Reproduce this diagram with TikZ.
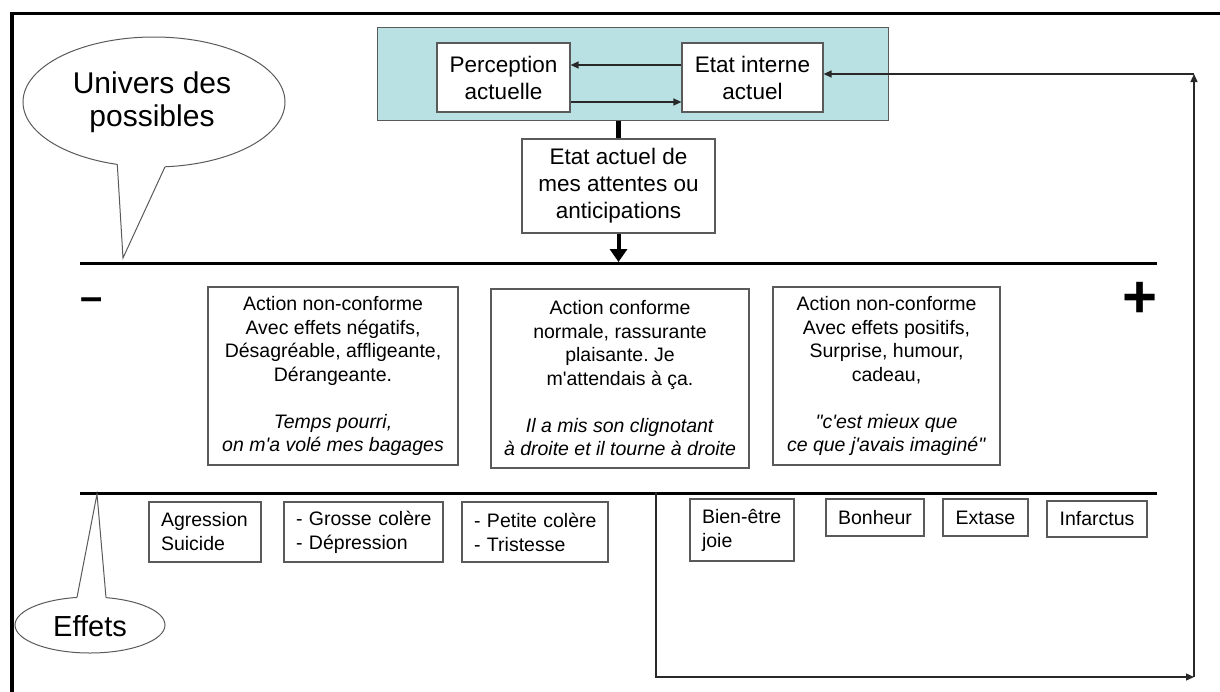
\documentclass[tikz,border=0pt]{standalone}
\usepackage{fontspec}
\newfontfamily\arial{Liberation Sans}
\usetikzlibrary{arrows.meta,shapes.geometric}
\definecolor{tealfill}{RGB}{185,224,226}
\definecolor{bord}{RGB}{90,90,90}
\definecolor{connc}{RGB}{40,40,40}
\frenchspacing
\begin{document}
\begin{tikzpicture}[x=1pt,y=-1pt,
  box/.style={draw=bord,line width=1.2pt,fill=white,inner sep=0pt,align=center},
  midtxt/.style={font=\arial\fontsize{19.5}{23.5}\selectfont},
  toptxt/.style={font=\arial\fontsize{22.5}{27}\selectfont},
  effbox/.style={box,align=left,inner xsep=12pt,font=\arial\fontsize{19.5}{24}\selectfont},
  smallbox/.style={box,font=\arial\fontsize{19.5}{24}\selectfont},
  conn/.style={draw=connc,line width=1.3pt},
  arr/.style={-{Triangle[width=7pt,length=8pt]}},
  bigline/.style={line width=3pt,black},
  bubble/.style={ellipse,draw=bord,line width=1pt,fill=white,inner sep=0pt},
  bubtxt/.style={font=\arial\fontsize{30}{33}\selectfont,align=center}
]
\useasboundingbox (0,0) rectangle (1220,691);
\fill[white] (0,0) rectangle (1220,691);

% frame
\draw[line width=3.5pt] (12,700) -- (12,13.5) -- (1230,13.5);

% top region
\node[box,fill=tealfill,draw=bord,line width=1pt,minimum width=511pt,minimum height=93pt] (teal) at (632.5,73.5) {};
\node[box,toptxt,minimum width=133pt,minimum height=69pt] (perc) at (503.5,77.5) {Perception\\actuelle};
\node[box,toptxt,minimum width=141pt,minimum height=69pt] (etat) at (752.5,77.5) {Etat interne\\actuel};
\node[box,toptxt,minimum width=193pt,minimum height=94pt] (att) at (618.5,186) {Etat actuel de\\mes attentes ou\\anticipations};

\draw[conn,arr] ([yshift=12.5pt]etat.west) -- ([yshift=12.5pt]perc.east);
\draw[conn,arr] ([yshift=-24.5pt]perc.east) -- ([yshift=-24.5pt]etat.west);

% horizontal axes
\coordinate (L1a) at (80,263);
\coordinate (L1b) at (1157,263);
\coordinate (L2a) at (80,493);
\coordinate (L2b) at (1157,493);
\draw[bigline] (L1a) -- (L1b);
\draw[bigline] (L2a) -- (L2b);

\coordinate (attEnd) at (618.5,262);
\draw[line width=5pt] (teal.south -| att.north) -- (att.north);
\draw[line width=4pt,-{Triangle[width=17pt,length=13pt]}] (att.south) -- (attEnd);

% signs
\node[font=\arial\bfseries\fontsize{40}{40}\selectfont,inner sep=0pt] (minus) at (92,304) {–};
\node[font=\arial\bfseries\fontsize{60}{60}\selectfont,inner sep=0pt] (plus) at (1140,300) {+};

% middle boxes
\node[box,midtxt,minimum width=250pt,minimum height=178pt] (neg) at (333,376)
  {Action non-conforme\\Avec effets négatifs,\\Désagréable, affligeante,\\Dérangeante.\\[23.5pt]\textit{Temps pourri,}\\\textit{on m'a volé mes bagages}};
\node[box,midtxt,minimum width=258pt,minimum height=179pt] (conf) at (620,378.5)
  {Action conforme\\normale, rassurante\\plaisante. Je\\m'attendais à ça.\\[23.5pt]\textit{Il a mis son clignotant}\\\textit{à droite et il tourne à droite}};
\node[box,midtxt,minimum width=227pt,minimum height=178pt] (pos) at (886.5,376)
  {Action non-conforme\\Avec effets positifs,\\Surprise, humour,\\cadeau,\\[23.5pt]\textit{"c'est mieux que}\\\textit{ce que j'avais imaginé"}};

% effect boxes
\node[effbox,minimum width=112pt,minimum height=60pt,text width=88pt] (agr) at (205,532) {\mbox{Agression}\\\mbox{Suicide}};
\node[effbox,minimum width=159pt,minimum height=60pt,text width=135pt] (gro) at (363.5,532) {\mbox{- Grosse colère}\\\mbox{- Dépression}};
\node[effbox,minimum width=146pt,minimum height=60pt,text width=122pt] (pet) at (535,532) {\mbox{- Petite colère}\\\mbox{- Tristesse}};
\node[effbox,minimum width=104pt,minimum height=62pt,text width=80pt] (bien) at (742,530) {\mbox{Bien-être}\\\mbox{joie}};
\node[smallbox,minimum width=98pt,minimum height=37pt] (bon) at (875,517.5) {Bonheur};
\node[smallbox,minimum width=85pt,minimum height=37pt] (ext) at (985.5,517.5) {Extase};
\node[smallbox,minimum width=100pt,minimum height=36pt] (inf) at (1097,519) {Infarctus};

% feedback loop
\coordinate (fb0) at (656,492);
\coordinate (fb1) at (1194,677);
\coordinate (fb2) at (1194,74);
\draw[conn,arr] (fb0) |- (fb1);
\draw[conn,arr] (fb1) -- (fb2);
\draw[conn,arr] (fb2) -- (fb2 -| etat.east);

% bubble: univers des possibles
\node[bubble,minimum width=262pt,minimum height=130pt] (univ) at (154,102) {};
\fill[white] (118,158) -- (117.3,164.4) -- (123,258) -- (165,166.8) -- (165,158) -- cycle;
\draw[draw=bord,line width=1pt] (117.3,164.4) -- (123,258) -- (165,166.8);
\node[bubtxt] (univtxt) at (152,102) {Univers des\\possibles};

% bubble: effets
\node[bubble,minimum width=150pt,minimum height=56pt] (eff) at (90,625) {};
\fill[white] (77,597.4) -- (97,494) -- (106,597.6) -- (106,603) -- (77,603) -- cycle;
\draw[draw=bord,line width=1pt] (77,597.4) -- (97,494) -- (106,597.6);
\node[font=\arial\fontsize{29}{33}\selectfont] (efftxt) at (90,626) {Effets};
\end{tikzpicture}
\end{document}
